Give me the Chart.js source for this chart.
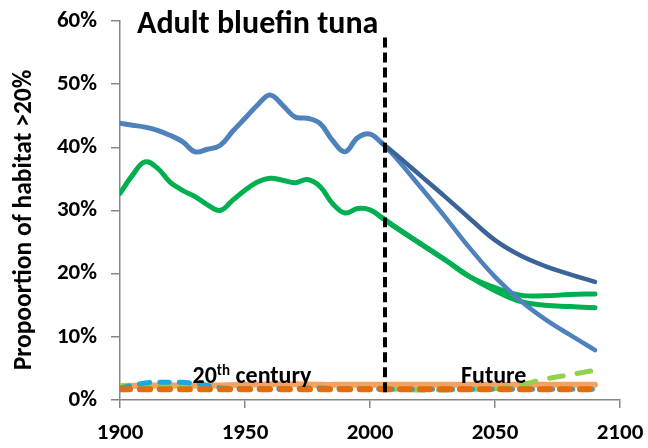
<!DOCTYPE html>
<html>
<head>
<meta charset="utf-8">
<script src="https://cdn.jsdelivr.net/npm/chart.js@4.4.1/dist/chart.umd.min.js"></script>
<style>
  html, body { margin: 0; padding: 0; background: #fff; }
  #wrap { width: 648px; height: 448px; }
</style>
</head>
<body>
<div id="wrap"><canvas id="chart1"></canvas></div>
<script>
const FONT = 'Carlito, Lato, sans-serif';

// Years
const histYears = [1900, 1905, 1910, 1915, 1920, 1925, 1930, 1935, 1940, 1945, 1950,
  1955, 1960, 1965, 1970, 1975, 1980, 1985, 1990, 1995, 2000, 2005];
const futureYears = [2005, 2010, 2020, 2030, 2040, 2050, 2060, 2070, 2080, 2090];
const allYears = [1900, 1910, 1920, 1930, 1940, 1950, 1960, 1970, 1980, 1990,
  2000, 2010, 2020, 2030, 2040, 2050, 2060, 2070, 2080, 2090];

// Main series (% of habitat)
const blueHist = [43.8, 43.5, 43.2, 42.7, 41.9, 40.9, 39.3, 39.7, 40.3, 42.5, 44.6,
  46.7, 48.3, 46.7, 44.8, 44.6, 43.8, 41.1, 39.3, 41.5, 42.1, 40.6];
const greenHist = [32.7, 35.6, 37.7, 36.7, 34.5, 33.2, 32.2, 30.9, 30.0, 31.6, 33.2,
  34.5, 35.1, 34.8, 34.4, 34.9, 33.8, 31.1, 29.6, 30.3, 30.1, 28.8];
const darkBlueFuture = [40.6, 39.0, 35.6, 32.2, 28.7, 25.3, 22.9, 21.2, 19.9, 18.7];
const blueFuture = [40.6, 38.5, 33.8, 29.0, 24.0, 19.5, 15.8, 12.8, 10.3, 7.9];
const greenFutureA = [28.8, 27.4, 24.8, 22.2, 19.5, 17.8, 16.6, 16.5, 16.7, 16.8];
const greenFutureB = [28.8, 27.4, 24.8, 22.2, 19.5, 17.3, 15.6, 15.0, 14.8, 14.6];

// Low series near zero
const orangeSolid = [2.2, 2.3, 2.3, 2.3, 2.3, 2.4, 2.5, 2.5, 2.4, 2.4,
  2.4, 2.4, 2.4, 2.4, 2.4, 2.4, 2.4, 2.4, 2.4, 2.4];
const orangeDash = [1.7, 1.7, 1.7, 1.7, 1.7, 1.7, 1.7, 1.7, 1.7, 1.7,
  1.7, 1.7, 1.7, 1.7, 1.7, 1.7, 1.7, 1.7, 1.7, 1.7];
const cyanHist = [1.9, 2.3, 2.7, 2.8, 2.8, 2.8, 2.6, 2.3, 1.9, 1.8, 1.8,
  1.8, 1.8, 1.8, 1.8, 1.9, 1.9, 1.8, 1.8, 1.8, 1.8, 1.8];
const cyanFuture = [1.7, 1.7, 1.7, 1.7, 1.7, 1.7, 1.7, 1.7, 1.7, 1.7];
const limeHist = [2.2, 2.2, 2.3, 2.3, 2.3, 2.3, 2.2, 2.1, 2.0, 1.9, 1.8,
  1.8, 1.8, 1.8, 1.8, 1.8, 1.8, 1.8, 1.8, 1.8, 1.8, 1.7];
const limeFuture = [1.7, 1.7, 1.6, 1.6, 1.7, 1.8, 2.4, 3.3, 4.0, 4.7];

// Divider between 20th century and future
const dividerYear = 2006;
const dividerRange = [57.4, 0.7];

const xTicks = [1900, 1950, 2000, 2050, 2100];
const yTicks = [0, 10, 20, 30, 40, 50, 60];

function pts(years, values) {
  return years.map((yr, i) => ({ x: yr, y: values[i] }));
}

function line(data, color, width, dash, cap) {
  return {
    data: data,
    borderColor: color,
    borderWidth: width,
    borderDash: dash || [],
    borderCapStyle: cap || 'round',
    pointRadius: 0,
    tension: 0.4,
    fill: false,
  };
}

// Text drawn over the plot: title, axis title, period labels
const textPlugin = {
  id: 'textPlugin',
  afterDatasetsDraw(chart) {
    const ctx = chart.ctx;
    const xs = chart.scales.x;
    const ys = chart.scales.y;
    ctx.save();
    ctx.fillStyle = '#000';
    ctx.textBaseline = 'alphabetic';

    ctx.font = 'bold 32px ' + FONT;
    ctx.textAlign = 'left';
    ctx.fillText('Adult bluefin tuna', 137, 33);

    ctx.save();
    ctx.translate(31, 220);
    ctx.rotate(-Math.PI / 2);
    ctx.font = 'bold 25.5px ' + FONT;
    ctx.textAlign = 'center';
    ctx.fillText('Propoortion of habitat >20%', 0, 0);
    ctx.restore();

    const base = ys.getPixelForValue(2.7);
    let x = xs.getPixelForValue(1929);
    ctx.font = 'bold 24px ' + FONT;
    ctx.fillText('20', x, base);
    x += ctx.measureText('20').width;
    ctx.font = 'bold 15px ' + FONT;
    ctx.fillText('th', x, base - 8);
    x += ctx.measureText('th').width;
    ctx.font = 'bold 24px ' + FONT;
    ctx.fillText(' century', x, base);

    ctx.fillText('Future', xs.getPixelForValue(2036.4), base);
    ctx.restore();
  }
};

const axisColor = '#868686';

const chart1 = new Chart(document.getElementById('chart1').getContext('2d'), {
  type: 'line',
  data: {
    datasets: [
      line(pts([dividerYear, dividerYear], dividerRange), '#000', 4, [10, 5], 'butt'),
      line(pts(allYears, orangeDash), '#e46c0a', 6, [10, 10]),
      line(pts(histYears, cyanHist), '#1aa8e0', 5, [10, 10]),
      line(pts(futureYears, cyanFuture), '#1aa8e0', 5, [10, 10]),
      line(pts(histYears, limeHist), '#92d050', 5, [10, 10]),
      line(pts(futureYears, limeFuture), '#92d050', 5, [14, 14]),
      line(pts(allYears, orangeSolid), '#f9a15e', 6),
      line(pts(futureYears, darkBlueFuture), '#3a6397', 4.5),
      line(pts(futureYears, blueFuture), '#4f81bd', 4.5),
      line(pts(histYears, blueHist), '#4f81bd', 5),
      line(pts(futureYears, greenFutureA), '#00b050', 5),
      line(pts(futureYears, greenFutureB), '#00b050', 5),
      line(pts(histYears, greenHist), '#00b050', 5),
    ],
  },
  options: {
    responsive: true,
    maintainAspectRatio: false,
    animation: false,
    layout: { padding: { top: 21, right: 28, left: 0, bottom: 0 } },
    plugins: {
      legend: { display: false },
      tooltip: { enabled: false },
    },
    scales: {
      x: {
        type: 'linear',
        min: 1900,
        max: 2100,
        afterBuildTicks: s => { s.ticks = xTicks.map(v => ({ value: v })); },
        ticks: {
          callback: v => String(v),
          color: '#000',
          font: { family: FONT, size: 23, weight: 'bold' },
          padding: 11,
          maxRotation: 0,
        },
        grid: { drawOnChartArea: false, tickLength: 8, color: axisColor, lineWidth: 1.5 },
        border: { color: axisColor, width: 1.5 },
        afterFit: s => {
          s.height = 48;
          s.paddingLeft = 0;
          s.paddingRight = 0;
        },
      },
      y: {
        min: 0,
        max: 60,
        afterBuildTicks: s => { s.ticks = yTicks.map(v => ({ value: v })); },
        ticks: {
          callback: v => v + '%',
          color: '#000',
          font: { family: FONT, size: 23, weight: 'bold' },
          padding: 14,
        },
        grid: { drawOnChartArea: false, tickLength: 9, color: axisColor, lineWidth: 1.5 },
        border: { color: axisColor, width: 1.5 },
        afterFit: s => {
          s.width = 120;
          s.paddingTop = 0;
          s.paddingBottom = 0;
        },
      },
    },
  },
  plugins: [textPlugin],
});
</script>
</body>
</html>
